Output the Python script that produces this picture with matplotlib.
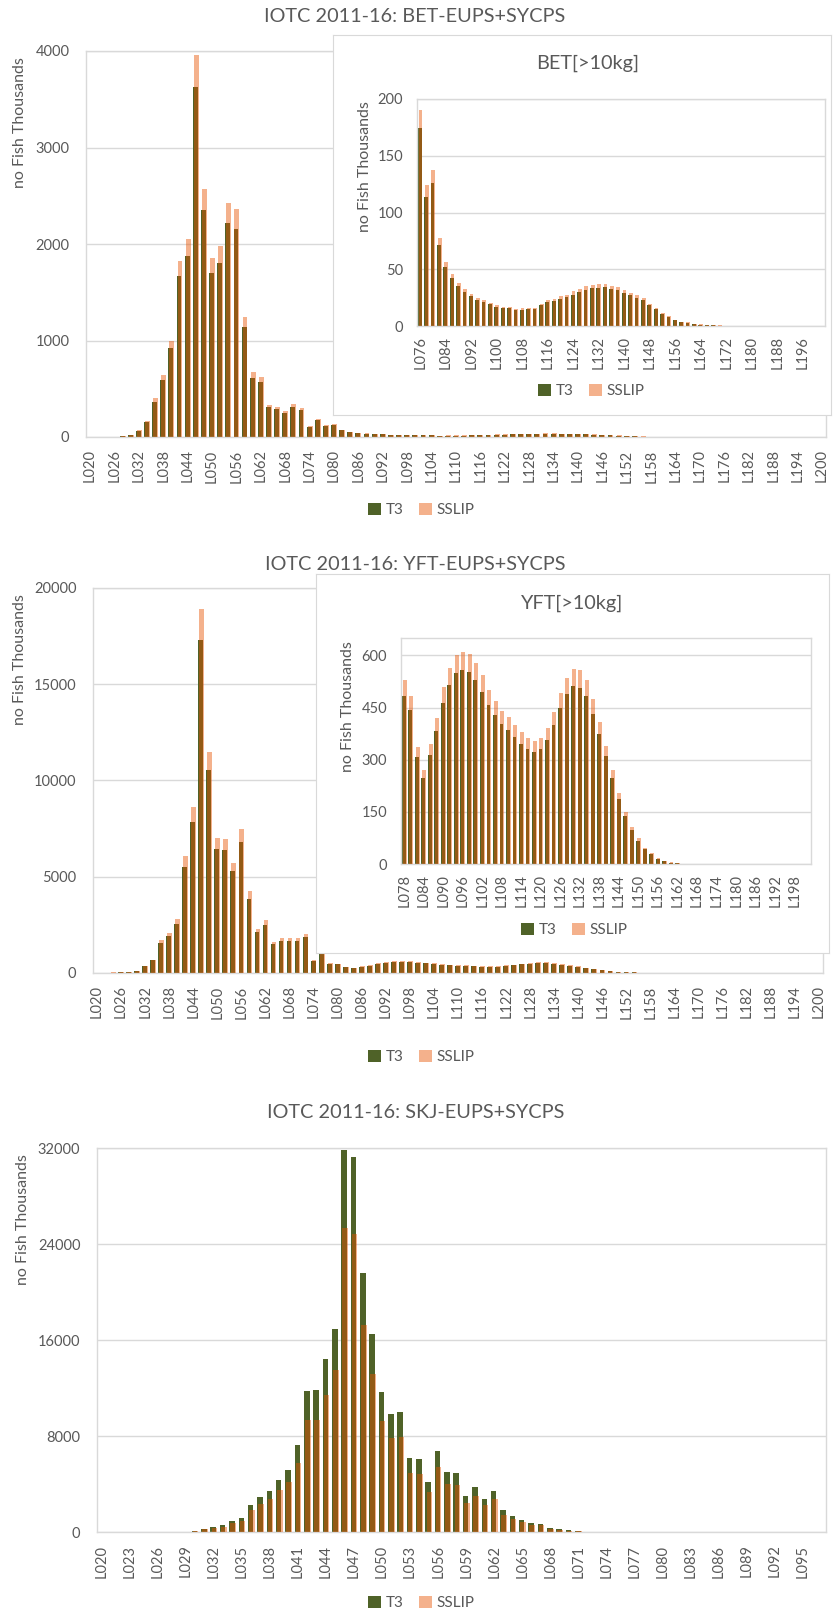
import numpy as np
import matplotlib
matplotlib.use("Agg")
import matplotlib.pyplot as plt

plt.rcParams['font.family'] = ['Lato', 'DejaVu Sans']

W, H = 833, 1613
GREEN = '#4F6228'
ORANGE = (231 / 255, 82 / 255, 0.0)
TXT = '#595959'
GRID = '#D9D9D9'

# ---- BET (2 cm classes) ----
bet_small_len = [f"L{n:03d}" for n in range(20, 76, 2)]
bet_small_t3 = [0, 0, 1, 3, 8, 20, 66, 156, 366, 595, 923, 1670, 1874, 3627,
                2354, 1697, 1808, 2219, 2157, 1141, 612, 567, 311, 287, 252, 315, 280, 100]
bet_small_sslip = [0, 0, 1, 3, 9, 25, 73, 166, 404, 646, 999, 1825, 2047, 3958,
                   2569, 1856, 1977, 2423, 2358, 1245, 671, 626, 332, 308, 273, 342, 304, 111]
bet_big_len = [f"L{n:03d}" for n in range(76, 204, 2)]
bet_big_t3 = [174.7, 113.8, 125.6, 71.2, 51.8, 42.4, 35.0, 30.0, 26.5, 23.2, 21.2, 19.4,
              17.0, 15.6, 15.6, 14.1, 14.1, 14.7, 15.3, 18.2, 20.9, 21.8, 23.8, 25.6,
              27.6, 30.3, 32.0, 33.2, 33.8, 34.4, 32.4, 31.5, 29.4, 27.0, 25.0, 22.6,
              18.5, 14.7, 10.6, 7.9, 5.0, 3.2, 2.6, 1.8, 1.2, 0.8, 0.5, 0.4, 0.3, 0.3,
              0.2, 0.2, 0.2, 0.1, 0.1, 0.1, 0.1, 0.1, 0.1, 0.0, 0.0, 0.0, 0.0, 0.0]
bet_big_sslip = [190.3, 124.1, 137.4, 77.6, 56.2, 45.6, 37.6, 32.4, 28.5, 25.0, 22.6, 20.6,
                 18.8, 16.8, 16.5, 15.0, 15.6, 16.2, 16.2, 19.7, 22.6, 23.8, 26.5, 27.6,
                 30.6, 32.6, 35.3, 35.9, 36.8, 37.4, 35.3, 34.4, 32.0, 29.0, 27.0, 24.4,
                 19.7, 15.6, 11.2, 8.5, 5.6, 3.8, 3.2, 2.1, 1.4, 1.0, 0.6, 0.5, 0.4, 0.3,
                 0.3, 0.2, 0.2, 0.2, 0.1, 0.1, 0.1, 0.1, 0.1, 0.0, 0.0, 0.0, 0.0, 0.0]

# ---- YFT (2 cm classes) ----
yft_small_len = [f"L{n:03d}" for n in range(20, 78, 2)]
yft_small_t3 = [20, 20, 25, 30, 50, 86, 346, 657, 1556, 1902, 2559, 5498, 7867, 17290,
                10547, 6449, 6380, 5273, 6830, 3838, 2109, 2507, 1487, 1677, 1677, 1677,
                1867, 622, 985]
yft_small_sslip = [25, 25, 30, 40, 60, 121, 363, 674, 1729, 2075, 2801, 6052, 8610, 18898,
                   11498, 7037, 6951, 5706, 7469, 4236, 2282, 2766, 1591, 1833, 1833, 1815,
                   2040, 657, 1050]
yft_big_len = [f"L{n:03d}" for n in range(78, 204, 2)]
yft_big_t3 = [484, 443, 309, 248, 314, 383, 464, 516, 550, 559, 552, 528, 494, 456, 428,
              402, 384, 365, 346, 330, 323, 332, 358, 400, 450, 488, 512, 507, 482, 432,
              374, 310, 246, 187, 137, 97, 67, 42, 28, 15, 8, 4, 2, 1,
              0.8, 0.6, 0.5, 0.4, 0.3, 0.3, 0.2, 0.2, 0.2, 0.1, 0.1, 0.1, 0.1, 0.1,
              0.0, 0.0, 0.0, 0.0, 0.0]
yft_big_sslip = [530, 484, 337, 271, 344, 421, 509, 565, 601, 611, 605, 577, 543, 500, 469,
                 441, 422, 401, 379, 361, 353, 363, 391, 438, 493, 536, 561, 557, 529, 474,
                 409, 339, 269, 204, 150, 106, 74, 46, 31, 17, 9, 5, 2.5, 1.2,
                 0.9, 0.7, 0.6, 0.5, 0.4, 0.3, 0.3, 0.2, 0.2, 0.1, 0.1, 0.1, 0.1, 0.1,
                 0.0, 0.0, 0.0, 0.0, 0.0]

# ---- SKJ (1 cm classes) ----
skj_len = [f"L{n:03d}" for n in range(20, 98)]
skj_t3 = [0, 0, 0, 0, 0, 0, 0, 0, 0, 20,
          111, 277, 388, 582, 887, 1164, 2245, 2937, 3436, 4350,
          5182, 7260, 11777, 11832, 14409, 16958, 31867, 31257, 21614, 16515,
          11694, 9837, 9976, 6152, 6068, 4184, 6761, 4988, 4877, 2993,
          3741, 2771, 3436, 1857, 1358, 1025, 720, 693, 360, 249,
          166, 83, 30, 10, 5, 0, 0, 0, 0, 0,
          0, 0, 0, 0, 0, 0, 0, 0, 0, 0,
          0, 0, 0, 0, 0, 0, 0, 0]
skj_sslip = [0, 0, 0, 0, 0, 0, 0, 0, 0, 10,
             55, 222, 333, 443, 720, 887, 1801, 2300, 2716, 3464,
             4129, 5791, 9366, 9366, 11416, 13522, 25355, 24856, 17236, 13135,
             9283, 7870, 7925, 4877, 4794, 3325, 5376, 3963, 3879, 2411,
             2993, 2217, 2716, 1441, 1081, 804, 554, 554, 277, 194,
             111, 55, 20, 5, 2, 0, 0, 0, 0, 0,
             0, 0, 0, 0, 0, 0, 0, 0, 0, 0,
             0, 0, 0, 0, 0, 0, 0, 0]

bet_len = bet_small_len + bet_big_len[:63]
bet_t3 = bet_small_t3 + bet_big_t3[:63]
bet_sslip = bet_small_sslip + bet_big_sslip[:63]
yft_len = yft_small_len + yft_big_len[:62]
yft_t3 = yft_small_t3 + yft_big_t3[:62]
yft_sslip = yft_small_sslip + yft_big_sslip[:62]


def rect(l, t, r, b):
    return [l / W, 1 - b / H, (r - l) / W, (b - t) / H]


def bars(ax, cats, t3, sslip, step, ymax, ystep, ypad, xpad, fs=10.5):
    x = np.arange(len(cats))
    b1 = ax.bar(x - 0.06, t3, 0.6, color=GREEN, zorder=2, label='T3')
    b2 = ax.bar(x + 0.06, sslip, 0.6, color=ORANGE, alpha=0.45, zorder=3, label='SSLIP')
    ax.set_xlim(-0.5, len(cats) - 0.5)
    ax.set_ylim(0, ymax)
    ax.set_xticks(x[::step])
    ax.set_xticklabels(cats[::step], rotation=90)
    ax.set_yticks(np.arange(0, ymax + 1, ystep))
    ax.tick_params(axis='both', length=0, colors=TXT, labelsize=fs)
    ax.tick_params(axis='y', pad=ypad)
    ax.tick_params(axis='x', pad=xpad)
    ax.yaxis.grid(True, color=GRID, lw=1)
    ax.set_axisbelow(True)
    for s in ax.spines.values():
        s.set_color(GRID)
        s.set_linewidth(1)
    return b1, b2


def legend(handles, xc, yc):
    leg = fig.legend(handles, ['T3', 'SSLIP'], loc='center',
                     bbox_to_anchor=(xc / W, 1 - yc / H), ncol=2, frameon=False,
                     handlelength=0.85, handleheight=0.85, handletextpad=0.3,
                     columnspacing=1.0, fontsize=11, labelcolor=TXT)
    leg.set_zorder(10)


def box(l, t, r, b):
    bx = fig.add_axes(rect(l, t, r, b), zorder=5)
    bx.set_xticks([])
    bx.set_yticks([])
    for s in bx.spines.values():
        s.set_color(GRID)
    return bx


def label(txt, x, y, size=14.3, rot=0):
    fig.text(x / W, 1 - y / H, txt, ha='center', va='center', color=TXT,
             fontsize=size, rotation=rot, zorder=10)


fig = plt.figure(figsize=(W / 100, H / 100), dpi=100)

# BET
ax = fig.add_axes(rect(86, 51, 826, 437))
h = bars(ax, bet_len, bet_t3, bet_sslip, 3, 4000, 1000, 12, 9)
label('IOTC 2011-16: BET-EUPS+SYCPS', 415, 17)
label('no Fish Thousands', 20, 123, 11.5, 90)
legend(h, 421, 510)

box(333, 35, 831, 415)
ax = fig.add_axes(rect(417, 99, 825, 326), zorder=6)
h = bars(ax, bet_big_len, bet_big_t3, bet_big_sslip, 4, 200, 50, 10, 7)
label('BET[>10kg]', 588, 63)
label('no Fish Thousands', 365, 167, 11.5, 90)
legend(h, 591, 391)

# YFT
ax = fig.add_axes(rect(93, 588, 823, 973))
h = bars(ax, yft_len, yft_t3, yft_sslip, 3, 20000, 5000, 12, 9)
label('IOTC 2011-16: YFT-EUPS+SYCPS', 415, 565)
label('no Fish Thousands', 20, 660, 11.5, 90)
legend(h, 421, 1057)

box(316, 574, 829, 953)
ax = fig.add_axes(rect(401, 638, 811, 864), zorder=6)
h = bars(ax, yft_big_len, yft_big_t3, yft_big_sslip, 3, 650, 150, 10, 7)
label('YFT[>10kg]', 572, 603)
label('no Fish Thousands', 348, 707, 11.5, 90)
legend(h, 574, 930)

# SKJ
ax = fig.add_axes(rect(97, 1148, 826, 1532))
h = bars(ax, skj_len, skj_t3, skj_sslip, 3, 32000, 8000, 12, 9)
label('IOTC 2011-16: SKJ-EUPS+SYCPS', 416, 1113)
label('no Fish Thousands', 23, 1220, 11.5, 90)
legend(h, 421, 1603)

fig.savefig('out.png', dpi=100)
